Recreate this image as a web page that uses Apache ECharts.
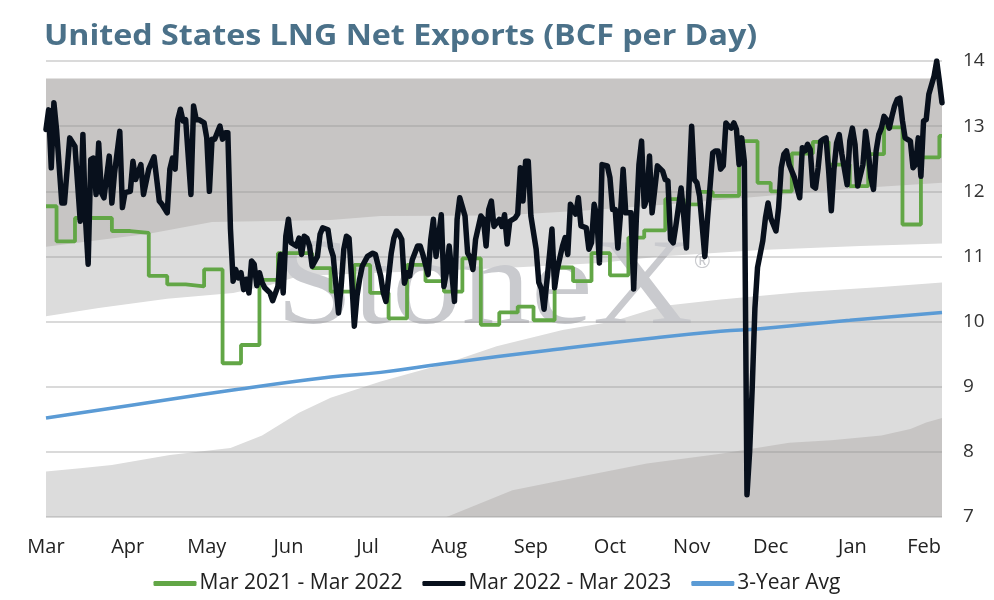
<!DOCTYPE html>
<html>
<head>
<meta charset="utf-8">
<script src="https://cdn.jsdelivr.net/npm/echarts@6/dist/echarts.min.js"></script>
<style>
  html, body { margin: 0; padding: 0; background: #fff; }
  #chart { width: 994px; height: 600px; }
</style>
</head>
<body>
<div id="chart"></div>
<script>
// x axis: one category per day from 1 Mar 2022 to 4 Feb 2023
var monthNames = ['Mar', 'Apr', 'May', 'Jun', 'Jul', 'Aug', 'Sep', 'Oct', 'Nov', 'Dec', 'Jan', 'Feb'];
var monthLengths = [31, 30, 31, 30, 31, 31, 30, 31, 30, 31, 31, 28];
var dayCount = 341;
var yTicks = [7, 8, 9, 10, 11, 12, 13, 14];

// Mar 2022 - Mar 2023 (day index, BCF/d)
var mar22Days = [0, 1, 2, 3, 4, 6, 7, 9, 11, 13, 14, 15, 16, 17, 18, 19, 20, 21, 22, 24, 25, 26, 28, 29, 30, 32, 33, 34, 36, 37, 39, 41, 43, 44, 46, 47, 48, 49, 50, 51, 52, 53, 55, 56, 57, 58, 60, 61, 62, 63, 64, 66, 67, 68, 69, 70, 71, 72, 73, 74, 75, 76, 77, 78, 79, 80, 81, 82, 83, 85, 86,
  88, 89, 90, 91, 92, 93, 95, 96, 97, 98, 99, 100, 101, 103, 104, 105, 107, 108, 109, 111, 112, 113, 114, 115, 116, 117, 118, 119, 120, 122, 124, 125, 127, 128, 129, 131, 132, 133, 134, 135, 136, 137, 138, 139, 141, 142, 143, 145, 146, 147, 148, 150, 151, 152, 153, 155, 156, 157, 159, 160, 161, 162, 163, 165, 166, 167, 168, 169, 170, 172, 173, 174,
  175, 176, 178, 179, 180, 181, 182, 183, 184, 186, 187, 188, 189, 191, 192, 193, 194, 196, 197, 198, 199, 201, 202, 203, 205, 206, 207, 208, 209, 210, 211, 213, 214, 215, 216, 217, 218, 219, 220, 222, 223, 224, 225, 226, 227, 228, 229, 230, 231, 232, 234, 235, 236, 237, 238, 239, 241, 242, 243, 244, 245, 246, 247, 248, 249, 250, 251, 253, 254, 255, 256, 257,
  258, 259, 260, 261, 262, 263, 264, 265, 266, 267, 268, 269, 270, 272, 273, 274, 275, 277, 278, 279, 280, 281, 282, 284, 285, 286, 287, 288, 289, 290, 291, 292, 293, 294, 295, 296, 297, 298, 299, 300, 301, 302, 304, 305, 306, 307, 308, 310, 311, 312, 313, 314, 315, 316, 317, 318, 319, 320, 321, 322, 323, 324, 325, 326, 328, 329, 330, 331, 332, 333, 334, 335, 337, 338, 339, 340];
var mar22Vals = [12.95, 13.25, 12.36, 13.36, 12.95, 11.82, 11.82, 12.82, 12.69, 11.54, 12.87, 11.57, 10.88, 12.49, 12.51, 11.95, 12.74, 11.98, 11.9, 12.54, 11.82, 12.28, 12.92, 11.75, 11.98, 12.0, 12.46, 12.18, 12.41, 11.95, 12.34, 12.53, 11.85, 11.8, 11.67, 12.34, 12.51, 12.34, 13.1, 13.26, 13.08, 13.1, 11.95, 13.31, 13.1, 13.1, 13.05, 12.82, 12.0, 12.8, 12.8, 13.0, 12.8, 12.9, 12.9, 11.42, 10.62, 10.8, 10.67, 10.75, 10.49, 10.65, 10.44, 10.93, 10.88, 10.55, 10.75, 10.6, 10.52, 10.44, 10.32,
  10.54, 11.03, 10.44, 11.31, 11.57, 11.21, 11.16, 11.28, 11.03, 11.31, 11.28, 11.16, 10.85, 11.0, 11.34, 11.44, 11.41, 11.13, 11.0, 10.13, 10.54, 11.11, 11.31, 11.28, 10.65, 9.93, 10.39, 10.65, 10.85, 11.0, 11.05, 11.03, 10.7, 10.44, 10.31, 11.05, 11.28, 11.39, 11.34, 11.26, 10.59, 10.75, 10.7, 10.95, 11.16, 11.16, 11.03, 10.72, 11.26, 11.57, 11.0, 11.64, 10.54, 10.77, 11.16, 10.31, 11.57, 11.9, 11.62, 11.05, 10.98, 10.8, 11.26, 11.62, 11.57, 11.16, 11.72, 11.85, 11.46, 11.57, 11.46, 11.64,
  11.19, 11.54, 11.59, 11.65, 12.36, 11.85, 12.46, 12.46, 11.62, 11.11, 10.6, 10.5, 10.19, 11.0, 11.42, 10.52, 10.8, 11.16, 11.29, 11.03, 11.8, 11.65, 11.9, 11.47, 11.44, 11.11, 11.21, 11.8, 11.62, 10.9, 12.41, 12.39, 12.21, 11.72, 11.72, 11.13, 11.65, 12.34, 11.67, 11.67, 10.5, 11.57, 12.41, 12.77, 11.77, 11.88, 12.54, 11.67, 12.03, 12.39, 12.31, 12.18, 12.16, 11.26, 11.21, 11.47, 12.05, 11.62, 11.13, 12.08, 13.0, 12.18, 12.13, 11.93, 11.47, 11.0, 11.57, 12.59, 12.62, 12.62, 12.34, 12.39,
  13.05, 13.0, 12.97, 13.05, 12.95, 12.41, 12.82, 12.46, 7.34, 8.0, 9.0, 10.2, 10.83, 11.24, 11.59, 11.82, 11.59, 11.39, 11.75, 12.36, 12.57, 12.62, 12.41, 12.21, 12.05, 11.9, 12.67, 12.62, 12.72, 12.64, 12.08, 12.05, 12.36, 12.77, 12.8, 12.82, 12.31, 11.7, 12.34, 12.74, 12.87, 12.57, 12.1, 12.77, 12.97, 12.72, 12.08, 12.41, 12.92, 12.62, 12.21, 12.03, 12.62, 12.87, 12.97, 13.15, 13.1, 12.97, 13.15, 13.31, 13.41, 13.43, 13.08, 12.82, 12.77, 12.36, 12.41, 12.82, 12.23, 13.08, 13.1, 13.49, 13.77, 14.0, 13.69, 13.36];

// Mar 2021 - Mar 2022, weekly levels (day the level starts, BCF/d)
var mar21Days = [0, 4, 11, 25, 32, 39, 46, 53, 60, 67, 74, 81, 88, 101, 108, 117, 123, 130, 137, 144, 151, 158, 165, 172, 179, 185, 193, 200, 207, 214, 221, 227, 235, 242, 248, 253, 263, 270, 275, 283, 291, 297, 305, 312, 318, 325, 332, 339, 340];
var mar21Vals = [11.77, 11.23, 11.59, 11.39, 11.36, 10.70, 10.57, 10.54, 10.80, 9.36, 9.64, 10.64, 11.05, 10.82, 10.46, 10.87, 10.44, 10.05, 10.87, 10.62, 10.46, 10.97, 9.95, 10.14, 10.23, 10.02, 10.83, 10.62, 11.05, 10.71, 11.29, 11.40, 11.88, 11.80, 11.99, 11.93, 12.77, 12.13, 12.00, 12.58, 12.76, 12.41, 12.08, 12.57, 12.98, 11.49, 12.52, 12.85, 12.85];

// 3-year average
var avgDays = [0, 33, 71, 108, 127, 152, 191, 229, 256, 271, 305, 340];
var avgVals = [8.52, 8.72, 8.95, 9.15, 9.22, 9.36, 9.56, 9.74, 9.85, 9.89, 10.02, 10.14];

// range bands behind the lines (upper edges, top to bottom)
var bandTopDays = [0, 340];
var bandTopVals = [13.73, 13.73];
var bandADays = [0, 39, 63, 108, 127, 172, 203, 233, 271, 309, 340];
var bandAVals = [11.15, 11.35, 11.53, 11.56, 11.62, 11.63, 11.70, 11.79, 11.92, 12.05, 12.13];
var bandBDays = [0, 20, 46, 71, 85, 96, 134, 172, 210, 233, 271, 309, 340];
var bandBVals = [10.08, 10.21, 10.35, 10.44, 10.56, 10.70, 10.76, 10.82, 10.90, 11.00, 11.10, 11.16, 11.20];
var bandCDays = [0, 13, 25, 47, 70, 82, 96, 108, 127, 152, 171, 196, 215, 234, 256, 286, 317, 340];
var bandCVals = [7.70, 7.75, 7.80, 7.95, 8.06, 8.25, 8.60, 8.83, 9.08, 9.36, 9.62, 9.87, 10.00, 10.24, 10.34, 10.45, 10.53, 10.60];
var bandDDays = [152, 177, 203, 228, 256, 282, 298, 317, 328, 334, 340];
var bandDVals = [7.00, 7.41, 7.62, 7.82, 7.97, 8.14, 8.18, 8.25, 8.35, 8.45, 8.52];

var categories = [];
var monthStarts = {};
for (var m = 0; m < monthNames.length; m++) {
  monthStarts[categories.length] = true;
  for (var d = 1; d <= monthLengths[m]; d++) {
    categories.push(monthNames[m] + ' ' + d);
  }
}
categories = categories.slice(0, dayCount);

function pairs(days, vals) {
  return days.map(function (day, i) { return [day, vals[i]]; });
}

function band(days, vals, color) {
  return {
    type: 'line',
    data: pairs(days, vals),
    symbol: 'none',
    silent: true,
    z: 1,
    lineStyle: { width: 0 },
    areaStyle: { color: color, opacity: 1, origin: 'start' }
  };
}

var font = '"Open Sans", "Noto Sans", sans-serif';
var chart = echarts.init(document.getElementById('chart'));

var option = {
  animation: false,
  backgroundColor: '#ffffff',
  legend: {
    data: [
      { name: 'Mar 2021 - Mar 2022', icon: 'roundRect' },
      { name: 'Mar 2022 - Mar 2023', icon: 'roundRect' },
      { name: '3-Year Avg', icon: 'roundRect' }
    ],
    left: 'center',
    top: 568,
    itemWidth: 43,
    itemHeight: 5,
    itemGap: 20,
    textStyle: { color: '#222', fontSize: 21, fontFamily: font, padding: [0, 0, 0, -2] }
  },
  grid: { left: 46, right: 52, top: 61, bottom: 83 },
  graphic: {
    elements: [
      {
        type: 'text', z: 10, silent: true,
        x: 44, y: 23, scaleX: 1.15,
        style: { text: 'United States LNG Net Exports (BCF per Day)', fontSize: 28, fontWeight: 'bold', fontFamily: font, fill: '#4b7189', verticalAlign: 'top' }
      },
      {
        type: 'text', z: 2, silent: true,
        x: 276, y: 291, scaleX: 1.14,
        style: { text: 'StoneX', fontSize: 122, fontFamily: '"Liberation Serif", serif', fill: '#c9cace', verticalAlign: 'middle' }
      },
      {
        type: 'text', z: 2, silent: true,
        x: 694, y: 262,
        style: { text: '\u00AE', fontSize: 20, fontFamily: font, fill: '#c9cace', verticalAlign: 'middle' }
      }
    ]
  },
  xAxis: {
    type: 'category',
    data: categories,
    boundaryGap: false,
    axisLine: { show: false },
    axisTick: { show: false },
    splitLine: { show: false },
    axisLabel: {
      interval: function (index) { return monthStarts[index] === true; },
      formatter: function (value) {
        var name = value.split(' ')[0];
        // last label sits a little inside the plot edge
        return name === 'Feb' ? '{last|' + name + '}' : name;
      },
      rich: { last: { padding: [0, 20, 0, 0], fontSize: 20, color: '#222', fontFamily: font } },
      margin: 20,
      color: '#222',
      fontSize: 20,
      fontFamily: font
    }
  },
  yAxis: {
    type: 'value',
    position: 'right',
    min: yTicks[0],
    max: yTicks[yTicks.length - 1],
    interval: 1,
    z: 3,
    axisLine: { show: false },
    axisTick: { show: false },
    splitLine: { lineStyle: { color: 'rgba(150,150,150,0.35)', width: 2 } },
    axisLabel: { margin: 21, align: 'left', color: '#333', fontSize: 19, fontFamily: font }
  },
  series: [
    band(bandTopDays, bandTopVals, '#c7c5c4'),
    band(bandADays, bandAVals, '#dcdcdc'),
    band(bandBDays, bandBVals, '#ffffff'),
    band(bandCDays, bandCVals, '#dcdcdc'),
    band(bandDDays, bandDVals, '#c7c5c4'),
    {
      name: '3-Year Avg',
      type: 'line',
      data: pairs(avgDays, avgVals),
      symbol: 'none',
      smooth: true,
      z: 4,
      lineStyle: { color: '#5b9bd5', width: 3.5 },
      itemStyle: { color: '#5b9bd5' }
    },
    {
      name: 'Mar 2021 - Mar 2022',
      type: 'line',
      data: pairs(mar21Days, mar21Vals),
      step: 'end',
      symbol: 'none',
      z: 5,
      lineStyle: { color: '#62a646', width: 3.8 },
      itemStyle: { color: '#62a646' }
    },
    {
      name: 'Mar 2022 - Mar 2023',
      type: 'line',
      data: pairs(mar22Days, mar22Vals),
      symbol: 'none',
      z: 6,
      lineStyle: { color: '#08101c', width: 5.5, join: 'round', cap: 'round' },
      itemStyle: { color: '#08101c' }
    }
  ]
};

chart.setOption(option);
</script>
</body>
</html>
